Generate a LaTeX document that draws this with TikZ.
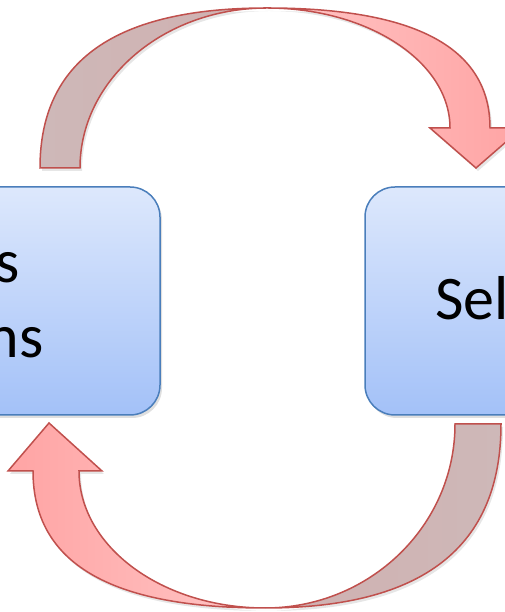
\documentclass[tikz,border=0pt]{standalone}
\usepackage{fontspec}
\setmainfont{Carlito}
\usepackage{tikz}
\usetikzlibrary{shadows}

\definecolor{arrowline}{HTML}{C0504D}
\definecolor{boxline}{HTML}{4A7EBB}
\definecolor{boxtop}{HTML}{DDE8FC}
\definecolor{boxbottom}{HTML}{A3C1F8}
\definecolor{backlight}{HTML}{CEB8B8}
\definecolor{backdark}{HTML}{D0B0B0}
\definecolor{frontlight}{HTML}{FFC6C6}
\definecolor{frontdark}{HTML}{FFA4A4}

\tikzset{
	stage/.style={draw=boxline, line width=1.5pt, rounded corners=30pt,
		top color=boxtop, bottom color=boxbottom, inner sep=0pt,
		minimum width=260pt, minimum height=228pt,
		drop shadow={shadow xshift=2pt, shadow yshift=-3pt, opacity=.25}},
	stagetext/.style={font=\fontsize{62}{74}\selectfont, inner sep=0pt},
	arrowpart/.style={draw=arrowline, line width=1.5pt, line join=miter,
		drop shadow={shadow xshift=2pt, shadow yshift=-3pt, opacity=.2}},
}

\begin{document}
\begin{tikzpicture}[x=1pt, y=1pt]
	\useasboundingbox (0,0) rectangle (505,612);
	\clip (0,0) rectangle (505,612);

	% The two stages
	\node[stage] (gen) at (30,311) {};
	\node[stage] (sel) at (495,311) {};

	% Their (cropped) labels
	\node[stagetext, anchor=base east] (genA) at (20,329) {s};
	\node[stagetext, anchor=base east] (genB) at (44,254) {ns};
	\node[stagetext, anchor=base west] (selA) at (435,292) {Sel};

	% Upper arrow: from gen to sel
	\path[arrowpart, left color=backlight, right color=backdark]
		(40,444) .. controls (40,551) and (115,604) .. (267,604)
		arc[start angle=90, end angle=180, x radius=187, y radius=160] -- cycle;
	\path[arrowpart, left color=frontlight, right color=frontdark]
		(267,604) .. controls (416,604) and (490,564) .. (490,484)
		-- (522,484) -- (476,444) -- (430,484) -- (450,484)
		arc[start angle=0, end angle=90, x radius=183, y radius=120] -- cycle;

	% Lower arrow: from sel back to gen
	\path[arrowpart, left color=backdark, right color=backlight]
		(501,188) .. controls (501,65) and (423,4) .. (265,4)
		arc[start angle=-90, end angle=0, x radius=190, y radius=184] -- cycle;
	\path[arrowpart, left color=frontdark, right color=frontlight]
		(265,4) .. controls (110,4) and (33,49) .. (33,141)
		-- (8,141) -- (49,189) -- (102,141) -- (79,141)
		arc[start angle=180, end angle=270, x radius=186, y radius=137] -- cycle;
\end{tikzpicture}
\end{document}
